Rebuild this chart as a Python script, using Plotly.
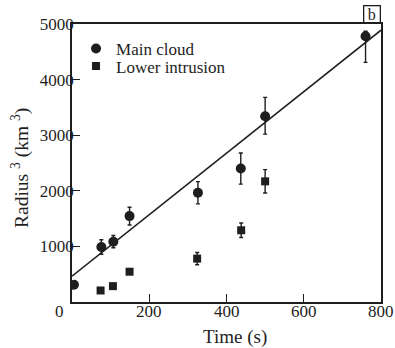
import plotly.graph_objects as go

# Main cloud
main_t = [5, 76, 107, 149, 326, 437, 500, 760]
main_r = [310, 990, 1085, 1545, 1965, 2400, 3340, 4780]
main_err_plus = [0, 130, 110, 160, 200, 280, 340, 90]
main_err_minus = [0, 130, 110, 160, 200, 280, 320, 470]

# Lower intrusion
low_t = [74, 106, 149, 324, 438, 500]
low_r = [207, 285, 545, 780, 1290, 2170]
low_err_plus = [0, 0, 0, 110, 130, 210]
low_err_minus = [0, 0, 0, 110, 130, 210]

# Fitted line
fit_t = [0, 800]
fit_r = [465, 4890]

x_ticks = [0, 200, 400, 600, 800]
x_labels = ["0", "200", "400", "600", "800"]
y_ticks = [1000, 2000, 3000, 4000, 5000]
y_labels = ["1000", "2000", "3000", "4000", "5000"]

FONT = "Liberation Serif"
INK = "#1e1e1e"

fig = go.Figure()
fig.add_trace(go.Scatter(
    x=fit_t, y=fit_r, mode="lines", line=dict(color=INK, width=1.6),
    showlegend=False, hoverinfo="skip"))
fig.add_trace(go.Scatter(
    x=main_t, y=main_r, mode="markers", name="Main cloud", legend="legend",
    marker=dict(symbol="circle", size=10, color=INK),
    error_y=dict(type="data", array=main_err_plus, arrayminus=main_err_minus,
                 symmetric=False, color=INK, thickness=1.4, width=2)))
fig.add_trace(go.Scatter(
    x=low_t, y=low_r, mode="markers", name="Lower intrusion", legend="legend2",
    marker=dict(symbol="square", size=8, color=INK),
    error_y=dict(type="data", array=low_err_plus, arrayminus=low_err_minus,
                 symmetric=False, color=INK, thickness=1.4, width=2)))

leg_common = dict(xanchor="left", yanchor="middle", bgcolor="rgba(0,0,0,0)",
                  font=dict(size=17, family=FONT, color=INK), itemwidth=30,
                  borderwidth=0)

fig.update_layout(
    width=395, height=348,
    margin=dict(l=72, r=14, t=24, b=46, autoexpand=False),
    paper_bgcolor="white", plot_bgcolor="white",
    font=dict(family=FONT, size=17, color=INK),
    legend=dict(x=0.013, y=0.91, **leg_common),
    legend2=dict(x=0.013, y=0.847, **leg_common),
    xaxis=dict(range=[0, 800], tickvals=x_ticks[1:-1], showticklabels=False,
               ticks="inside", ticklen=8, tickwidth=1.3, tickcolor=INK,
               showline=True, linecolor=INK, linewidth=1.5, mirror=True,
               showgrid=False, zeroline=False, automargin=False),
    yaxis=dict(range=[0, 5000], tickvals=y_ticks, ticktext=y_labels,
               ticks="inside", ticklen=8, tickwidth=1.3, tickcolor=INK,
               tickfont=dict(size=17, family=FONT), ticklabelstandoff=-7,
               showline=True, linecolor=INK, linewidth=1.5, mirror=True,
               showgrid=False, zeroline=False, automargin=False),
)

# x tick labels placed on the x scale (the "0" sits left of the corner as in the original)
for v, lab in zip(x_ticks, x_labels):
    fig.add_annotation(text=lab, xref="x", yref="paper", x=v, y=0,
                       xanchor="center", yanchor="middle", yshift=-9,
                       xshift=-13 if v == 0 else 0, showarrow=False,
                       font=dict(size=17, family=FONT, color=INK))

fig.add_annotation(text="Time (s)", xref="paper", yref="paper", x=0.526, y=0,
                   xanchor="center", yanchor="middle", yshift=-35, showarrow=False,
                   font=dict(size=19, family=FONT, color=INK))

fig.add_annotation(text="Radius <sup>3</sup> (km <sup>3</sup>)", xref="paper", yref="paper",
                   x=0, y=0.5, xanchor="center", yanchor="middle", xshift=-52, yshift=-5,
                   textangle=-90, showarrow=False,
                   font=dict(size=19.5, family=FONT, color=INK))

fig.add_annotation(text="b", xref="paper", yref="paper", x=1, y=1,
                   xanchor="right", yanchor="bottom", showarrow=False,
                   font=dict(size=16, family=FONT, color=INK),
                   bordercolor=INK, borderwidth=1.3, borderpad=0,
                   width=15, height=16)

fig.write_html("out.html", config={"displayModeBar": False},
               post_script="document.body.style.margin='0';document.body.style.padding='0';")
